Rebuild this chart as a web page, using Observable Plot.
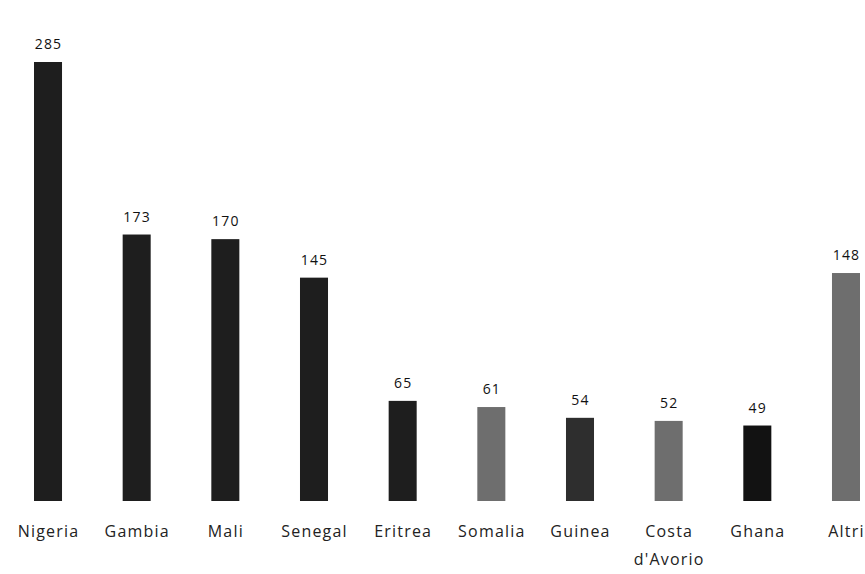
<!DOCTYPE html>
<html>
<head>
<meta charset="utf-8">
<script src="https://cdn.jsdelivr.net/npm/d3@7"></script>
<script src="https://cdn.jsdelivr.net/npm/@observablehq/plot@0.6"></script>
<style>
  html, body { margin: 0; padding: 0; background: #fff; }
  #chart { width: 865px; height: 574px; overflow: hidden; }
  #chart svg text { letter-spacing: 1.2px; }
</style>
</head>
<body>
<div id="chart"></div>
<script>
const countries = ["Nigeria", "Gambia", "Mali", "Senegal", "Eritrea", "Somalia", "Guinea", "Costa\nd'Avorio", "Ghana", "Altri"];
const values = [285, 173, 170, 145, 65, 61, 54, 52, 49, 148];
const tones = ["dark", "dark", "dark", "dark", "dark", "light", "medium", "light", "darkest", "light"];

const data = countries.map((c, i) => ({country: c, value: values[i], tone: tones[i]}));

const chart = Plot.plot({
  width: 865,
  height: 574,
  marginTop: 62,
  marginBottom: 73,
  marginLeft: 34,
  marginRight: 5,
  style: {background: "#fff", fontFamily: "'Open Sans', 'Noto Sans', sans-serif"},
  x: {domain: countries, paddingInner: 0.684, paddingOuter: 0, round: false, axis: null},
  y: {domain: [0, 285], axis: null},
  color: {domain: ["darkest", "dark", "medium", "light"], range: ["#121212", "#1e1e1e", "#2e2e2e", "#6e6e6e"]},
  marks: [
    Plot.barY(data, {x: "country", y: "value", fill: "tone"}),
    Plot.text(data, {x: "country", y: "value", text: d => String(d.value), dy: -18, fontSize: 14, fill: "#111"}),
    Plot.text(data, {x: "country", frameAnchor: "bottom", text: "country", dy: 16, lineAnchor: "top", fontSize: 16, fill: "#222", lineHeight: 1.75})
  ]
});
document.getElementById("chart").appendChild(chart);
</script>
</body>
</html>
